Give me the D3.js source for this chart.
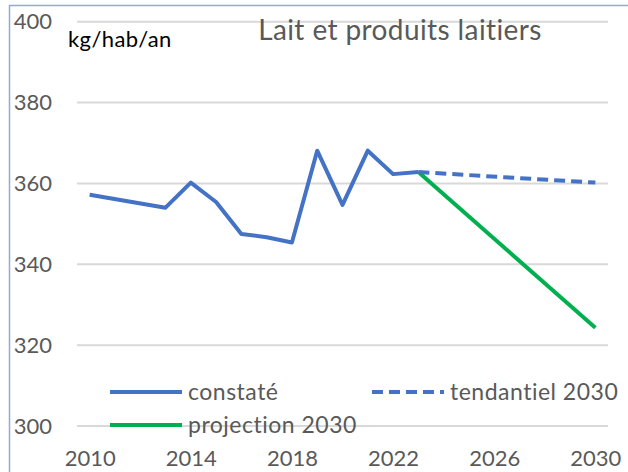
<!DOCTYPE html>
<html>
<head>
<meta charset="utf-8">
<script src="https://cdn.jsdelivr.net/npm/d3@7"></script>
<style>
  html, body { margin: 0; padding: 0; background: #fff; }
  svg { display: block; font-family: Lato, "Open Sans", sans-serif; }
</style>
</head>
<body>
<div id="chart"></div>
<script>
"use strict";

// data
var years = d3.range(2010, 2031);
var xTicks = [2010, 2014, 2018, 2022, 2026, 2030];
var yTicks = [300, 320, 340, 360, 380, 400];

var constateYears = [2010, 2013, 2014, 2015, 2016, 2017, 2018, 2019, 2020, 2021, 2022, 2023];
var constateValues = [357.2, 354.0, 360.2, 355.4, 347.5, 346.7, 345.4, 368.1, 354.7, 368.1, 362.3, 362.8];

var tendancielYears = [2023, 2030];
var tendancielValues = [362.8, 360.2];

var projectionYears = [2023, 2030];
var projectionValues = [362.8, 324.3];

var legendLabels = ["constaté", "tendantiel 2030", "projection 2030"];

var width = 628, height = 472;

var svg = d3.select("#chart").append("svg")
    .attr("width", width)
    .attr("height", height);

svg.append("rect")
    .attr("width", width)
    .attr("height", height)
    .attr("fill", "#fff");

// frame (only top and left edges show)
svg.append("rect")
    .attr("x", 9.5)
    .attr("y", 5.5)
    .attr("width", width + 10)
    .attr("height", height + 10)
    .attr("fill", "none")
    .attr("stroke", "#8faadc")
    .attr("stroke-width", 1.5);

var x = d3.scalePoint()
    .domain(years)
    .range([77, 608])
    .padding(0.5);

var y = d3.scaleLinear()
    .domain([300, 400])
    .range([426, 21.7]);

// horizontal gridlines
svg.append("g")
    .selectAll("line")
    .data(yTicks)
    .enter()
    .append("line")
    .attr("x1", 77)
    .attr("x2", 608)
    .attr("y1", function(d) { return y(d); })
    .attr("y2", function(d) { return y(d); })
    .attr("stroke", "#d9d9d9")
    .attr("stroke-width", 2);

// y axis labels
var yAxis = d3.axisLeft(y).tickValues(yTicks).tickSize(0).tickPadding(0);
svg.append("g")
    .attr("transform", "translate(52,0)")
    .call(yAxis)
    .call(function(g) {
        g.select(".domain").remove();
        g.selectAll("text")
            .attr("fill", "#595959")
            .attr("font-size", 22)
            .attr("font-family", "Lato, sans-serif");
    });

// x axis labels
var xAxis = d3.axisBottom(x).tickValues(xTicks).tickSize(0).tickPadding(0);
svg.append("g")
    .attr("transform", "translate(0,450)")
    .call(xAxis)
    .call(function(g) {
        g.select(".domain").remove();
        g.selectAll("text")
            .attr("fill", "#595959")
            .attr("font-size", 22)
            .attr("font-family", "Lato, sans-serif");
    });

// title + unit
svg.append("text")
    .attr("x", 400)
    .attr("y", 40)
    .attr("text-anchor", "middle")
    .attr("fill", "#595959")
    .attr("font-size", 28)
    .attr("letter-spacing", 0.4)
    .text("Lait et produits laitiers");

svg.append("text")
    .attr("x", 68)
    .attr("y", 47)
    .attr("fill", "#000")
    .attr("font-size", 22)
    .attr("letter-spacing", 0.4)
    .text("kg/hab/an");

var line = d3.line()
    .x(function(d) { return x(d[0]); })
    .y(function(d) { return y(d[1]); });

function pairs(xs, vs) {
    return xs.map(function(yr, i) { return [yr, vs[i]]; });
}

// projection under the dashed one
svg.append("path")
    .datum(pairs(projectionYears, projectionValues))
    .attr("d", line)
    .attr("fill", "none")
    .attr("stroke", "#00b050")
    .attr("stroke-width", 4)
    .attr("stroke-linejoin", "round");

svg.append("path")
    .datum(pairs(tendancielYears, tendancielValues))
    .attr("d", line)
    .attr("fill", "none")
    .attr("stroke", "#4472c4")
    .attr("stroke-width", 4)
    .attr("stroke-dasharray", "11,6");

svg.append("path")
    .datum(pairs(constateYears, constateValues))
    .attr("d", line)
    .attr("fill", "none")
    .attr("stroke", "#4472c4")
    .attr("stroke-width", 4)
    .attr("stroke-linejoin", "round");

// legend
var legendItems = [
    { label: legendLabels[0], color: "#4472c4", dash: null, x: 110, y: 392 },
    { label: legendLabels[1], color: "#4472c4", dash: "11,6", x: 372, y: 392 },
    { label: legendLabels[2], color: "#00b050", dash: null, x: 110, y: 425 }
];

var legend = svg.append("g")
    .selectAll("g")
    .data(legendItems)
    .enter()
    .append("g")
    .attr("transform", function(d) { return "translate(" + d.x + "," + d.y + ")"; });

legend.append("line")
    .attr("x1", 0)
    .attr("x2", 72)
    .attr("stroke", function(d) { return d.color; })
    .attr("stroke-width", 4)
    .attr("stroke-dasharray", function(d) { return d.dash; });

legend.append("text")
    .attr("x", 78)
    .attr("dy", "0.35em")
    .attr("fill", "#595959")
    .attr("font-size", 23)
    .attr("letter-spacing", 0.5)
    .text(function(d) { return d.label; });
</script>
</body>
</html>
